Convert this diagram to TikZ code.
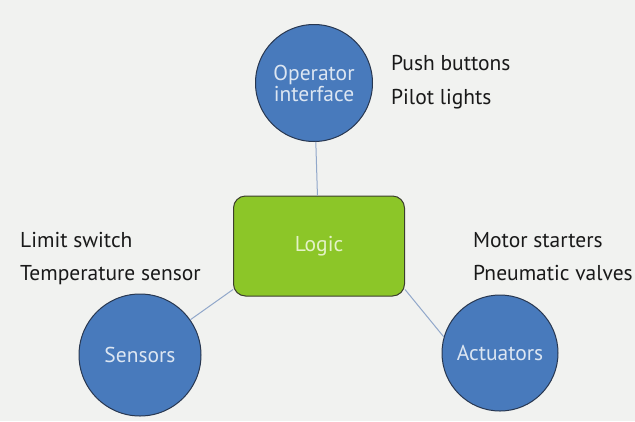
\documentclass[tikz,border=0pt]{standalone}
\usepackage{fontspec}
\setmainfont{PT Sans}
\definecolor{bgpaper}{RGB}{241,242,240}
\definecolor{discfill}{RGB}{72,122,188}
\definecolor{discedge}{RGB}{40,55,80}
\definecolor{disctext}{RGB}{220,230,242}
\definecolor{logicfill}{RGB}{140,198,40}
\definecolor{logicedge}{RGB}{60,62,45}
\definecolor{logictext}{RGB}{228,242,200}
\definecolor{linkline}{RGB}{145,168,202}
\definecolor{notetext}{RGB}{25,25,25}
\newcommand{\labelfont}{\fontsize{21.5}{24}\selectfont}
\begin{document}
\begin{tikzpicture}[x=1pt,y=-1pt,
  disc/.style={circle,fill=discfill,draw=discedge,line width=1pt,
    text=disctext,font=\labelfont,align=center,inner sep=0pt},
  logicbox/.style={rectangle,rounded corners=12pt,fill=logicfill,draw=logicedge,
    line width=1pt,text=logictext,font=\labelfont,
    minimum width=171pt,minimum height=100pt},
  link/.style={draw=linkline,line width=1pt},
  note/.style={text=notetext,font=\labelfont,anchor=base west,inner sep=0pt}]
  \useasboundingbox (0,0) rectangle (635,421);
  \fill[bgpaper] (0,0) rectangle (635,421);

  % central controller and the three device groups
  \node[logicbox] (logic) at (319,246) {Logic};
  \node[disc,minimum size=117pt] (opi) at (314,83) {Operator\\[-3pt]interface};
  \node[disc,minimum size=122pt] (sens) at (140,355) {Sensors};
  \node[disc,minimum size=116pt] (act) at (500,353) {Actuators};

  % connectors
  \draw[link] (opi) -- (logic);
  \draw[link] (sens.35) -- ([yshift=7pt]logic.south west);
  \draw[link] (act.164) -- ([yshift=7pt]logic.south east);

  % example devices for each group
  \node[note] (pb) at (391,70) {Push buttons};
  \node[note] (pl) at (391,104) {Pilot lights};
  \node[note] (ls) at (20,247) {Limit switch};
  \node[note] (ts) at (20,280) {Temperature sensor};
  \node[note] (ms) at (473,247) {Motor starters};
  \node[note] (pv) at (473,280) {Pneumatic valves};
\end{tikzpicture}
\end{document}
